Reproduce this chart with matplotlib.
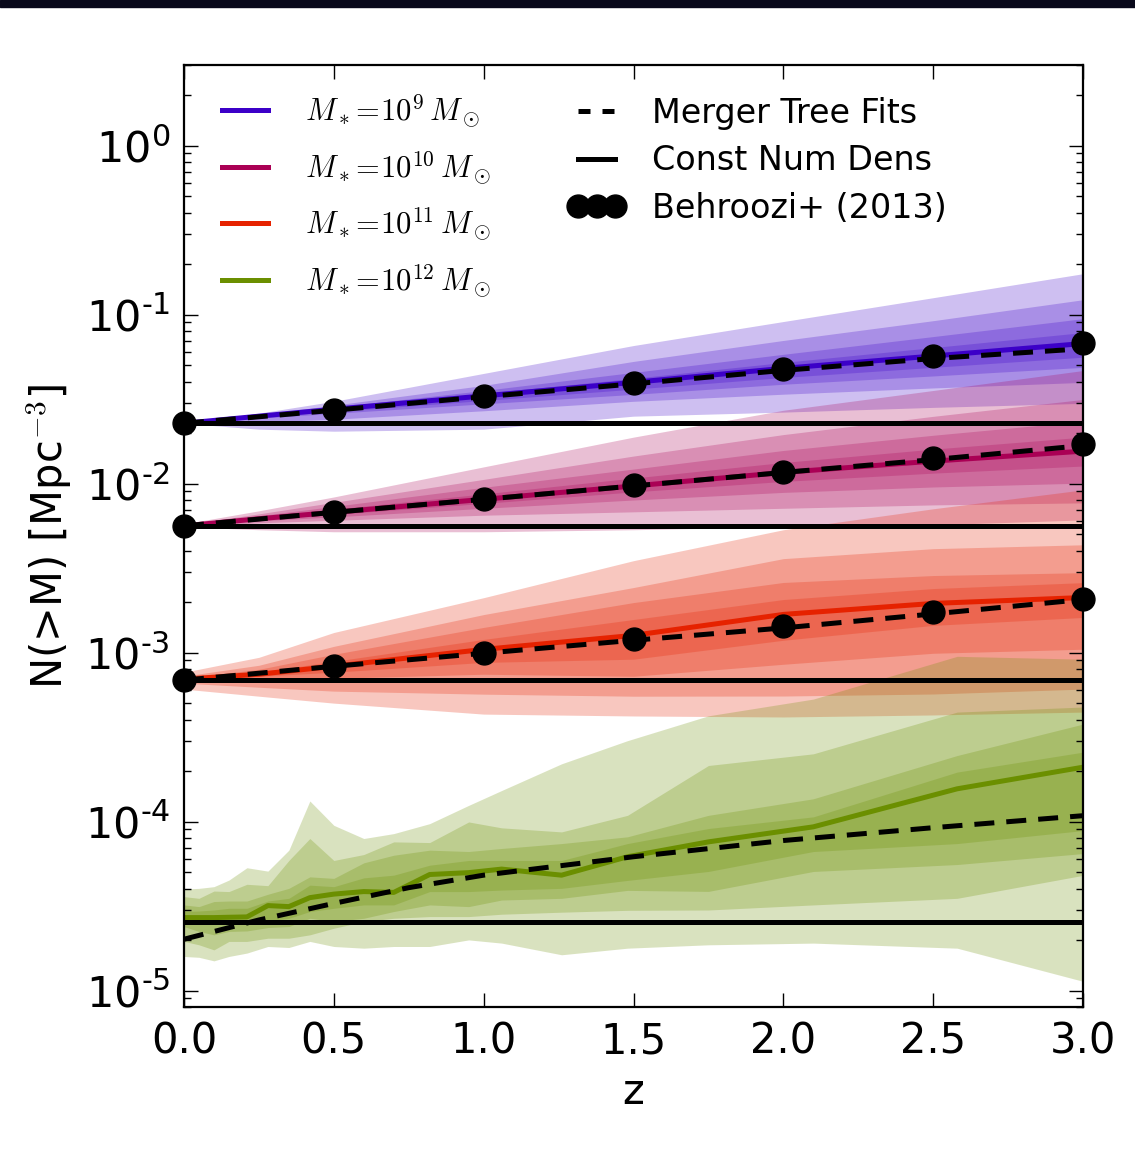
import numpy as np
import matplotlib
matplotlib.use('Agg')
import matplotlib.pyplot as plt
from matplotlib.lines import Line2D
from matplotlib.patches import Rectangle
from matplotlib.ticker import FixedLocator, FuncFormatter, LogLocator, NullFormatter

plt.rcParams['mathtext.fontset'] = 'cm'
plt.rcParams['font.family'] = 'DejaVu Sans'

# redshift knots (smooth bins) and simulation snapshots (most massive bin)
z_knots = [0.0, 0.25, 0.5, 1.0, 1.5, 2.0, 2.5, 3.0]
z_snap = [0.0, 0.05, 0.1, 0.15, 0.21, 0.28, 0.35, 0.42, 0.5, 0.6, 0.7, 0.82,
          0.95, 1.06, 1.26, 1.48, 1.75, 2.1, 2.58, 3.0]
z_fit = [0.0, 0.5, 1.0, 1.5, 2.0, 2.5, 3.0]
z_fit_12 = [0.0, 0.25, 0.5, 0.75, 1.0, 1.5, 2.0, 2.5, 3.0]
z_beh = [0.0, 0.5, 1.0, 1.5, 2.0, 2.5, 3.0]

# log10 N(>M) at z=0 (constant number density)
const_log = [-1.643, -2.250, -3.162, -4.595]

# ---- M* = 1e9 ----
med_9 = [-1.643, -1.601, -1.560, -1.481, -1.401, -1.318, -1.245, -1.171]
up_9 = [[0, 0.018, 0.047, 0.133, 0.218, 0.277, 0.345, 0.413],
        [0, 0.009, 0.024, 0.062, 0.124, 0.165, 0.209, 0.259],
        [0, 0.006, 0.012, 0.032, 0.059, 0.083, 0.115, 0.147],
        [0, 0.003, 0.006, 0.015, 0.024, 0.035, 0.050, 0.065]]
lo_9 = [[0, 0.077, 0.130, 0.197, 0.200, 0.259, 0.304, 0.354],
        [0, 0.035, 0.059, 0.088, 0.112, 0.153, 0.189, 0.230],
        [0, 0.012, 0.024, 0.047, 0.071, 0.094, 0.118, 0.141],
        [0, 0.006, 0.014, 0.027, 0.040, 0.054, 0.067, 0.081]]
fit_9 = [-1.643, -1.566, -1.486, -1.410, -1.330, -1.260, -1.202]
beh_9 = [-1.643, -1.566, -1.482, -1.405, -1.323, -1.244, -1.169]

# ---- M* = 1e10 ----
med_10 = [-2.250, -2.208, -2.170, -2.093, -2.014, -1.934, -1.867, -1.808]
up_10 = [[0.012, 0.047, 0.091, 0.192, 0.289, 0.368, 0.418, 0.477],
         [0.006, 0.029, 0.059, 0.118, 0.177, 0.224, 0.265, 0.306],
         [0.003, 0.018, 0.035, 0.071, 0.100, 0.130, 0.153, 0.177],
         [0, 0.009, 0.018, 0.032, 0.047, 0.059, 0.071, 0.083]]
lo_10 = [[0.006, 0.065, 0.115, 0.192, 0.259, 0.321, 0.377, 0.407],
         [0.003, 0.024, 0.047, 0.094, 0.153, 0.212, 0.259, 0.306],
         [0, 0.012, 0.027, 0.053, 0.083, 0.118, 0.153, 0.189],
         [0, 0.006, 0.012, 0.024, 0.035, 0.053, 0.071, 0.088]]
fit_10 = [-2.250, -2.170, -2.093, -2.014, -1.934, -1.858, -1.775]
beh_10 = [-2.250, -2.169, -2.091, -2.008, -1.930, -1.847, -1.768]

# ---- M* = 1e11 ----
med_11 = [-3.157, -3.128, -3.081, -2.981, -2.898, -2.774, -2.709, -2.674]
up_11 = [[0.041, 0.100, 0.200, 0.306, 0.442, 0.501, 0.560, 0.637],
         [0.018, 0.053, 0.118, 0.206, 0.283, 0.330, 0.324, 0.312],
         [0.006, 0.029, 0.071, 0.130, 0.194, 0.189, 0.165, 0.147],
         [0, 0.012, 0.029, 0.059, 0.094, 0.088, 0.088, 0.088]]
lo_11 = [[0.059, 0.130, 0.218, 0.383, 0.477, 0.607, 0.660, 0.678],
         [0.024, 0.077, 0.147, 0.265, 0.360, 0.483, 0.536, 0.542],
         [0.006, 0.029, 0.071, 0.147, 0.242, 0.295, 0.295, 0.306],
         [0, 0.012, 0.035, 0.077, 0.141, 0.153, 0.130, 0.118]]
fit_11 = [-3.163, -3.081, -3.004, -2.927, -2.854, -2.771, -2.686]
beh_11 = [-3.163, -3.079, -3.000, -2.922, -2.843, -2.761, -2.682]

# ---- M* = 1e12 (snapshot by snapshot) ----
med_12 = [-4.568, -4.568, -4.568, -4.566, -4.564, -4.497, -4.503, -4.450, -4.429, -4.414,
          -4.419, -4.313, -4.302, -4.281, -4.317, -4.208, -4.120, -4.031, -3.806, -3.678]
hi_12 = [[-4.399, -4.395, -4.385, -4.346, -4.273, -4.293, -4.169, -3.878, -4.022, -4.100,
          -4.071, -4.012, -3.904, -3.816, -3.658, -3.521, -3.374, -3.275, -3.022, -3.039],
         [-4.444, -4.454, -4.411, -4.414, -4.371, -4.379, -4.230, -4.100, -4.230, -4.195,
          -4.120, -4.124, -4.002, -4.037, -4.061, -3.963, -3.668, -3.599, -3.352, -3.322],
         [-4.493, -4.503, -4.473, -4.470, -4.470, -4.430, -4.395, -4.327, -4.336, -4.244,
          -4.199, -4.169, -4.177, -4.159, -4.130, -4.090, -3.963, -3.865, -3.609, -3.423],
         [-4.532, -4.529, -4.523, -4.513, -4.513, -4.470, -4.454, -4.376, -4.385, -4.333,
          -4.317, -4.258, -4.230, -4.230, -4.230, -4.130, -4.041, -3.972, -3.707, -3.589]]
lo_12 = [[-4.798, -4.803, -4.824, -4.798, -4.778, -4.739, -4.745, -4.709, -4.739, -4.749,
          -4.739, -4.739, -4.700, -4.719, -4.788, -4.749, -4.729, -4.719, -4.749, -4.945],
         [-4.709, -4.729, -4.759, -4.709, -4.709, -4.690, -4.690, -4.670, -4.631, -4.591,
          -4.572, -4.562, -4.562, -4.548, -4.536, -4.525, -4.523, -4.493, -4.454, -4.318],
         [-4.621, -4.650, -4.670, -4.650, -4.647, -4.627, -4.621, -4.572, -4.591, -4.572,
          -4.532, -4.493, -4.503, -4.464, -4.454, -4.407, -4.413, -4.295, -4.254, -4.189],
         [-4.582, -4.591, -4.601, -4.597, -4.601, -4.588, -4.572, -4.532, -4.513, -4.493,
          -4.493, -4.414, -4.414, -4.405, -4.395, -4.348, -4.295, -4.177, -4.130, -4.053]]
fit_12 = [-4.696, -4.582, -4.484, -4.391, -4.317, -4.208, -4.112, -4.036, -3.965]

colors = ['#3c00c8', '#aa0055', '#e62200', '#6b8f00']
labels = [r'$M_*\!=\!10^{9}\,M_\odot$', r'$M_*\!=\!10^{10}\,M_\odot$',
          r'$M_*\!=\!10^{11}\,M_\odot$', r'$M_*\!=\!10^{12}\,M_\odot$']

fig = plt.figure(figsize=(11.35, 11.54), dpi=100)
ax = fig.add_axes([0.1621, 0.1274, 0.7921, 0.8163])

# dark strip along the top edge of the original image
fig.add_artist(Rectangle((0, 1 - 7 / 1154), 1, 7 / 1154, transform=fig.transFigure,
                         color='#08081a', zorder=10))


def draw_bin(z, med, lows, highs, col):
    for lo, hi in zip(lows, highs):
        ax.fill_between(z, 10 ** np.array(lo), 10 ** np.array(hi), color=col,
                        alpha=0.25, lw=0, zorder=1)
    ax.plot(z, 10 ** np.array(med), color=col, lw=3.6, zorder=2)


smooth = [(med_9, lo_9, up_9), (med_10, lo_10, up_10), (med_11, lo_11, up_11)]
for (med, lo, up), col in zip(smooth, colors[:3]):
    m = np.array(med)
    lows = [m - np.array(w) for w in lo]
    highs = [m + np.array(w) for w in up]
    draw_bin(z_knots, med, lows, highs, col)
draw_bin(z_snap, med_12, lo_12, hi_12, colors[3])

for c in const_log:
    ax.axhline(10 ** c, color='k', lw=3.6, zorder=3)

for fit in [fit_9, fit_10, fit_11]:
    ax.plot(z_fit, 10 ** np.array(fit), color='k', lw=3.6, ls=(0, (4, 2.4)), zorder=4)
ax.plot(z_fit_12, 10 ** np.array(fit_12), color='k', lw=3.6, ls=(0, (4, 2.4)), zorder=4)

for beh in [beh_9, beh_10, beh_11]:
    ax.plot(z_beh, 10 ** np.array(beh), 'o', color='k', ms=16.5, zorder=5, clip_on=False)

ax.set_yscale('log')
ax.set_xlim(0, 3)
ax.set_ylim(8e-6, 3)


def exp_label(v, p):
    e = int(round(np.log10(v)))
    s = str(abs(e)) if e >= 0 else '\u2010' + str(abs(e))
    return r'$\mathregular{10^{%s}}$' % s


ax.xaxis.set_major_locator(FixedLocator([0, 0.5, 1.0, 1.5, 2.0, 2.5, 3.0]))
ax.xaxis.set_major_formatter(FuncFormatter(lambda v, p: '%.1f' % v))
ax.yaxis.set_major_locator(LogLocator(base=10, numticks=20))
ax.yaxis.set_minor_locator(LogLocator(base=10, subs=np.arange(2, 10), numticks=20))
ax.yaxis.set_minor_formatter(NullFormatter())
ax.yaxis.set_major_formatter(FuncFormatter(exp_label))
ax.tick_params(which='both', direction='in', top=True, right=True, width=1)
ax.tick_params(which='major', length=10, labelsize=30)
ax.tick_params(axis='y', which='major', labelsize=31)
ax.tick_params(axis='x', which='major', pad=10)
ax.tick_params(axis='y', which='major', pad=10)
ax.tick_params(which='minor', length=5)
for s in ax.spines.values():
    s.set_linewidth(1.6)

ax.set_xlabel('z', fontsize=30, labelpad=6)
ax.set_ylabel(r'N(>M) [Mpc$^{-3}$]', fontsize=30, labelpad=8)

h1 = [Line2D([], [], color=c, lw=3.6) for c in colors]
leg1 = ax.legend(h1, labels, loc='upper left', bbox_to_anchor=(0.012, 1.0), frameon=False,
                 fontsize=22, handlelength=1.5, handletextpad=1.2, labelspacing=0.62)
ax.add_artist(leg1)

h2 = [Line2D([], [], color='k', lw=3.6, ls=(0, (2.4, 2.4))),
      Line2D([], [], color='k', lw=3.6),
      Line2D([], [], color='k', ls='', marker='o', ms=16.5)]
leg2 = ax.legend(h2, ['Merger Tree Fits', 'Const Num Dens', 'Behroozi+ (2013)'],
                 loc='upper left', bbox_to_anchor=(0.394, 0.998), frameon=False,
                 fontsize=24, handlelength=1.7, handletextpad=0.8, labelspacing=0.43,
                 numpoints=3)

fig.savefig('out.png', dpi=100)
